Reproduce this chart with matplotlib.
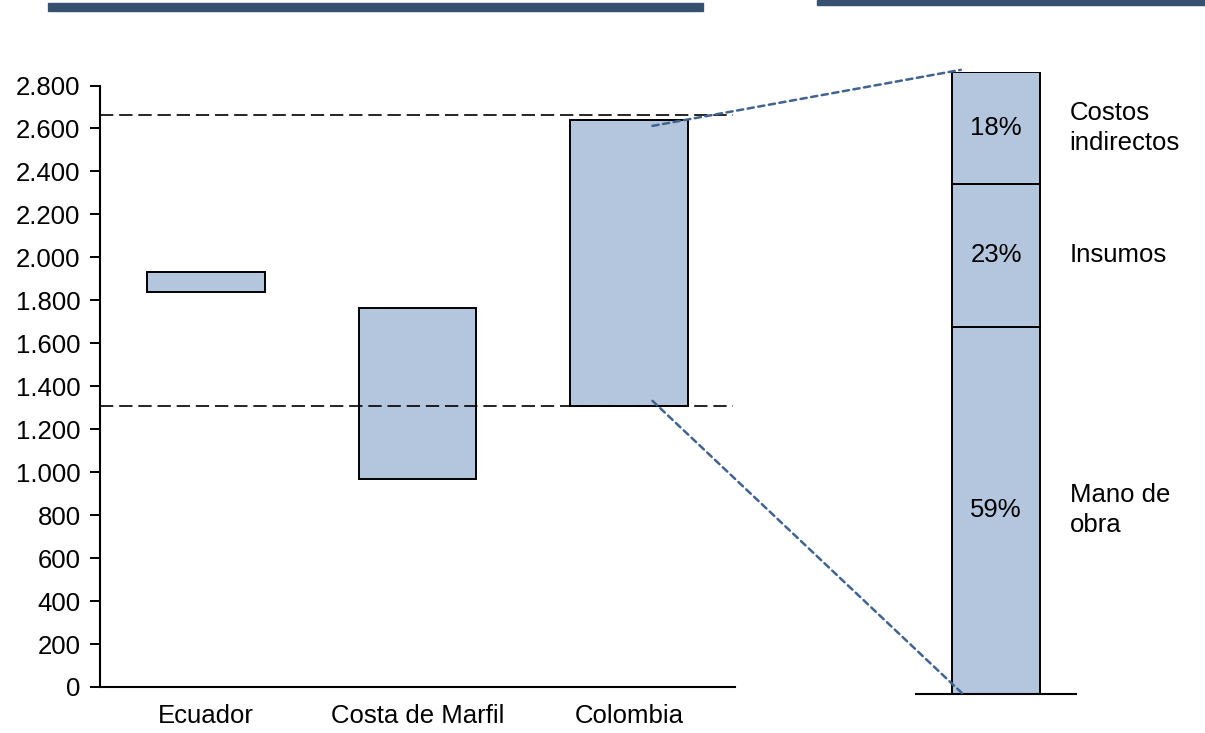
import matplotlib.pyplot as plt
from matplotlib.patches import Rectangle, ConnectionPatch

plt.rcParams['font.family'] = ['Liberation Sans', 'DejaVu Sans']

# Rango de costos por país
paises = ['Ecuador', 'Costa de Marfil', 'Colombia']
costo_min = [1838, 968, 1310]
costo_max = [1932, 1762, 2640]
rango_col = [1310, 2665]  # líneas de referencia de Colombia

# Composición de costos de Colombia (%)
componentes = ['Mano de\nobra', 'Insumos', 'Costos\nindirectos']
participacion = [59, 23, 18]

FILL = '#B3C6DD'
NAVY = '#36506F'
LINK = '#41648F'
W, H = 1205, 733
FS = 18.5

fig = plt.figure(figsize=(W / 100, H / 100), dpi=100)

# Barras decorativas del encabezado
fig.patches.append(Rectangle((48 / W, 1 - 11 / H), 655 / W, 7.5 / H,
                             transform=fig.transFigure, color=NAVY))
fig.patches.append(Rectangle((817 / W, 1 - 4.5 / H), 388 / W, 4.5 / H,
                             transform=fig.transFigure, color=NAVY))

# Panel principal
ax = fig.add_axes([100 / W, 1 - 687 / H, 635 / W, (687 - 85.5) / H])
x = range(len(paises))
alturas = [hi - lo for lo, hi in zip(costo_min, costo_max)]
ax.bar(x, alturas, bottom=costo_min, width=0.557, color=FILL,
       edgecolor='black', linewidth=1.4, zorder=2)
for v in rango_col:
    ax.axhline(v, xmin=0, xmax=633 / 635, color='black', lw=1.2,
               dashes=(8, 3.5), zorder=3)

ax.set_xlim(-0.5, 2.5)
ax.set_ylim(0, 2800)
ax.set_yticks(range(0, 2801, 200))
ax.set_yticklabels([f'{v:,}'.replace(',', '.') for v in range(0, 2801, 200)])
ax.set_xticks(list(x))
ax.set_xticklabels(paises)
ax.tick_params(axis='y', direction='out', length=7, width=1.4, pad=7,
               labelsize=FS)
ax.tick_params(axis='x', length=0, pad=12, labelsize=FS)
for s in ['top', 'right']:
    ax.spines[s].set_visible(False)
for s in ['left', 'bottom']:
    ax.spines[s].set_linewidth(1.5)

# Panel de composición
ax2 = fig.add_axes([916 / W, 1 - 693.5 / H, 160 / W, (693.5 - 71.7) / H])
base = 0
for comp, p in zip(componentes, participacion):
    ax2.bar(0.5, p, bottom=base, width=0.55, color=FILL,
            edgecolor='black', linewidth=1.4)
    ax2.text(0.5, base + p / 2, f'{p}%', ha='center', va='center',
             fontsize=FS)
    ax2.text(0.96, base + p / 2, comp, ha='left', va='center',
             fontsize=FS, linespacing=1.3, clip_on=False)
    base += p
ax2.set_xlim(0, 1)
ax2.set_ylim(0, 100)
ax2.set_xticks([])
ax2.set_yticks([])
for s in ['top', 'right', 'left']:
    ax2.spines[s].set_visible(False)
ax2.spines['bottom'].set_linewidth(1.5)

# Líneas de conexión
for (xa, ya), (xb, yb) in [((2.11, 2612), (0.28, 100.3)),
                           ((2.11, 1332), (0.29, 0))]:
    con = ConnectionPatch(xyA=(xa, ya), coordsA=ax.transData,
                          xyB=(xb, yb), coordsB=ax2.transData,
                          color=LINK, lw=1.8, linestyle=(0, (2.5, 1.8)))
    fig.add_artist(con)

fig.savefig('out.png', dpi=100)
